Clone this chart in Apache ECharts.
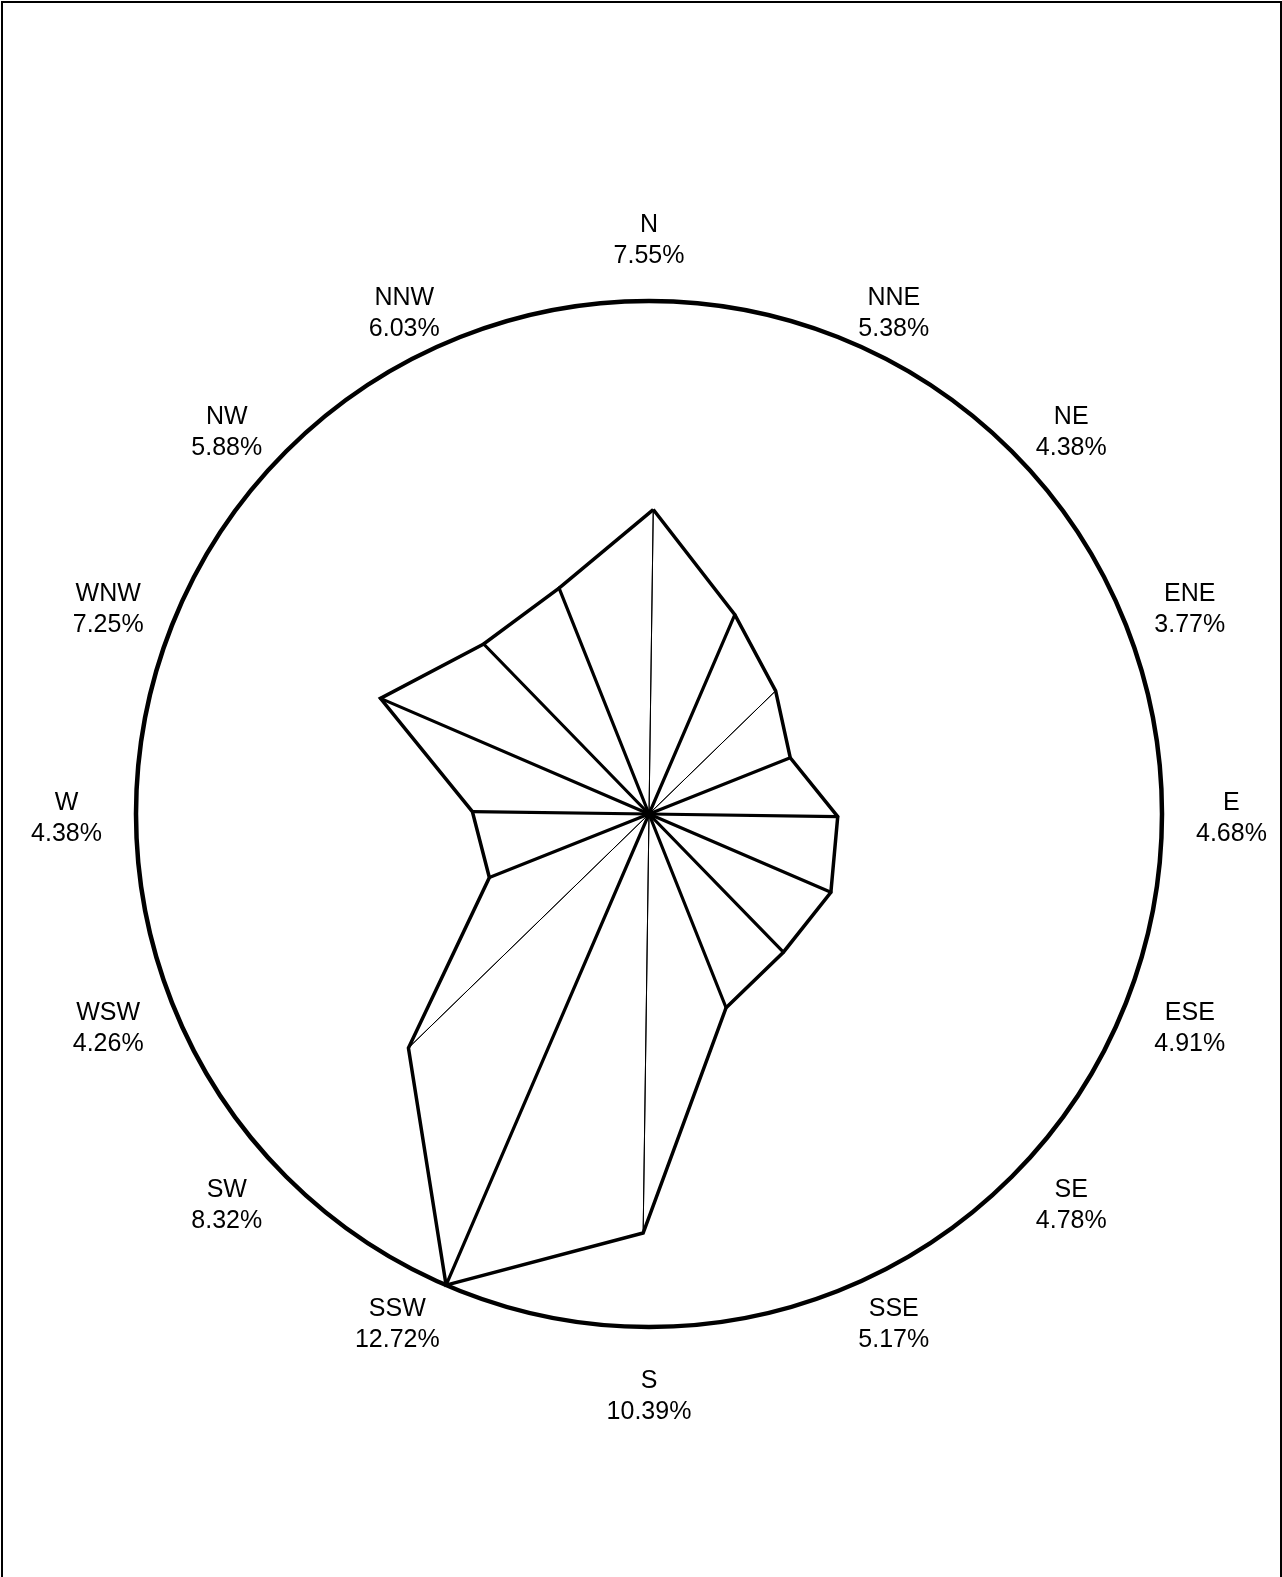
<!DOCTYPE html>
<html>
<head>
<meta charset="utf-8">
<title>Wind rose</title>
<script src="https://cdn.jsdelivr.net/npm/echarts@6/dist/echarts.min.js"></script>
<style>
  html, body { margin: 0; padding: 0; background: #fff; overflow: hidden; }
  #chart { position: absolute; left: 0; top: 0; width: 1282px; height: 1577px; }
  #frame { position: absolute; left: 1px; top: 1px; width: 1281px; height: 1700px; box-sizing: border-box;
           border: 2px solid #000; border-bottom: none; pointer-events: none; }
</style>
</head>
<body>
<div id="chart"></div>
<div id="frame"></div>
<script>
// compass directions, clockwise from north
const directions = ['N', 'NNE', 'NE', 'ENE', 'E', 'ESE', 'SE', 'SSE',
  'S', 'SSW', 'SW', 'WSW', 'W', 'WNW', 'NW', 'NNW']
// frequency per direction (%)
const frequencies = [7.55, 5.38, 4.38, 3.77, 4.68, 4.91, 4.78, 5.17,
  10.39, 12.72, 8.32, 4.26, 4.38, 7.25, 5.88, 6.03]
// spokes that come out hairline thin in the original
const thinSpokes = ['N', 'NE', 'S', 'SW']

const maxValue = Math.max(...frequencies)
const fontFamily = '"Liberation Sans", Arial, Helvetica, sans-serif'
const radius = 513

// radar runs counter-clockwise, so keep N first and walk the rest backwards
const order = [0].concat(directions.map((d, i) => i).slice(1).reverse())
const indicators = order.map(i => ({ name: directions[i], min: 0, max: maxValue }))
const roseValues = order.map(i => frequencies[i])

// one degenerate polygon per direction = a spoke from the centre to the vertex
const spokeData = order.map((dirIdx, k) => ({
  value: roseValues.map((v, j) => (j === k ? v : 0)),
  lineStyle: { width: thinSpokes.includes(directions[dirIdx]) ? 1 : 3.2 }
}))

const hidden = { show: false }

const chart = echarts.init(document.getElementById('chart'))
chart.setOption({
  animation: false,
  backgroundColor: '#fff',
  radar: [
    {
      // direction labels only (they sit a touch low in the original)
      center: [649, 819],
      radius: radius,
      startAngle: 90,
      shape: 'circle',
      splitNumber: 1,
      indicator: indicators,
      axisNameGap: 34,
      axisName: {
        color: '#000',
        fontFamily: fontFamily,
        fontSize: 25,
        lineHeight: 31,
        formatter: (name) => {
          const pct = frequencies[directions.indexOf(name)].toFixed(2) + '%'
          return '{d|' + name + '}\n{d|' + pct + '}'
        },
        rich: {
          d: { align: 'center', color: '#000', fontFamily: fontFamily, fontSize: 25, lineHeight: 31 }
        }
      },
      axisLine: hidden,
      axisTick: hidden,
      axisLabel: hidden,
      splitArea: hidden,
      splitLine: hidden
    },
    {
      // outer ring + the rose, which sits a hair clockwise in the original
      center: [649, 814],
      radius: radius,
      startAngle: 89.2,
      shape: 'circle',
      splitNumber: 1,
      indicator: indicators,
      axisName: hidden,
      axisLine: hidden,
      axisTick: hidden,
      axisLabel: hidden,
      splitArea: hidden,
      splitLine: { lineStyle: { color: '#000', width: 4.5 } }
    }
  ],
  series: [
    {
      name: 'spokes',
      type: 'radar',
      radarIndex: 1,
      silent: true,
      symbol: 'none',
      itemStyle: { color: '#000' },
      lineStyle: { color: '#000', width: 3.2 },
      data: spokeData
    },
    {
      name: 'frequency',
      type: 'radar',
      radarIndex: 1,
      silent: true,
      symbol: 'none',
      itemStyle: { color: '#000' },
      lineStyle: { color: '#000', width: 3.5, join: 'miter' },
      data: [{ value: roseValues }]
    }
  ]
})
</script>
</body>
</html>
